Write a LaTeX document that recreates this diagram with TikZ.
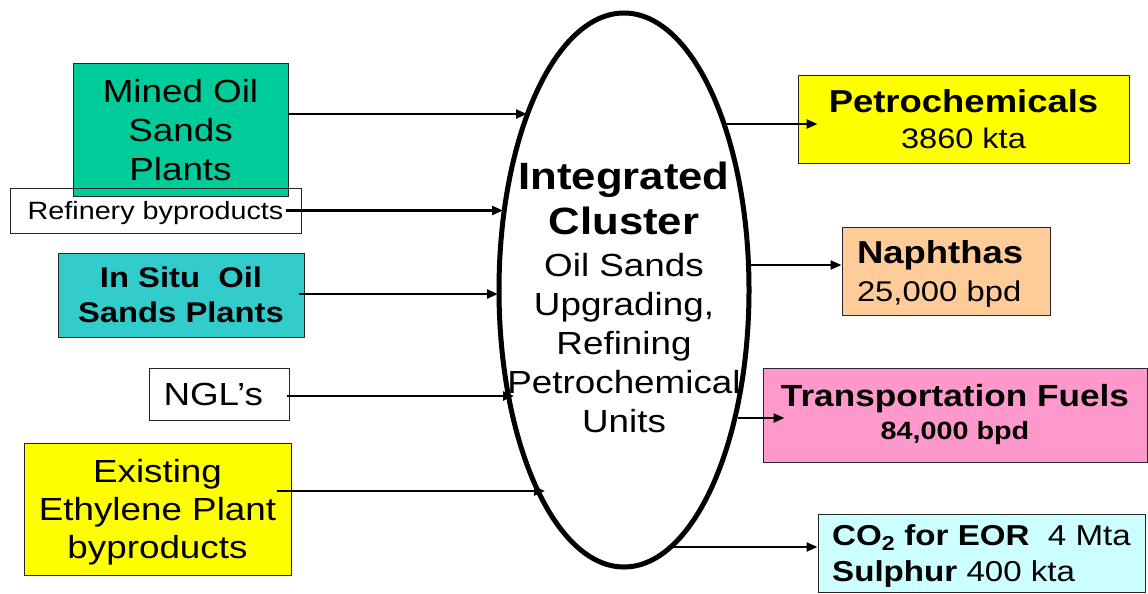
\documentclass[tikz,border=0pt]{standalone}
\usepackage{fontspec}
\setmainfont{Liberation Sans}[FakeStretch=1.15]
\usetikzlibrary{arrows.meta,shapes.geometric,calc}
\definecolor{minedc}{HTML}{00CC99}
\definecolor{insituc}{HTML}{33CCCC}
\definecolor{yel}{HTML}{FFFF00}
\definecolor{naphc}{HTML}{FFCC99}
\definecolor{transc}{HTML}{FF99CC}
\definecolor{coc}{HTML}{CCFFFF}
\newcommand\fsreg{\fontsize{32}{39}\selectfont}
\begin{document}
\begin{tikzpicture}[x=1pt,y=-1pt,
  box/.style={draw=black!85, line width=1pt, inner sep=0pt, align=center},
  arr/.style={line width=2.3pt, -{Triangle[length=11pt,width=9pt]}},
  ring/.style={draw=black, ellipse, line width=5pt, inner sep=0pt}]
\useasboundingbox (0,0) rectangle (1148,594);
\clip (0,0) rectangle (1148,594);
\fill[white] (0,0) rectangle (1148,594);

% left inputs
\node[box, fill=minedc, minimum width=215pt, minimum height=132pt, font=\fsreg] (mined) at (180.5,130) {Mined Oil\\Sands\\Plants};
\node[box, minimum width=291pt, minimum height=45pt, text depth=0pt, font=\fontsize{25}{30}\selectfont] (ref) at (155.5,210.5) {Refinery byproducts};
\node[box, fill=insituc, minimum width=246pt, minimum height=84pt, font=\bfseries\fontsize{28.5}{35}\selectfont] (insitu) at (181,295) {In Situ\ \ Oil\\Sands Plants};
\node[box, minimum height=52pt, text width=112pt, inner xsep=14pt, align=left, text depth=0pt, font=\fsreg] (ngl) at (219.5,394.5) {NGL’s};
\node[box, fill=yel, minimum width=267pt, minimum height=132pt, text depth=0pt, font=\fontsize{32}{38}\selectfont] (eth) at (157.5,509) {Existing\\Ethylene Plant\\byproducts};

% cluster
\node[align=center, inner sep=0pt, font=\fsreg] (cltext) at (624,297.3)
  {{\bfseries\fontsize{38}{45}\selectfont Integrated}\\[6pt]
   {\bfseries\fontsize{38}{45}\selectfont Cluster}\\[3pt]
   Oil Sands\\Upgrading,\\Refining\\Petrochemical\\Units};
\node[ring, minimum width=250pt, minimum height=554pt] (cluster) at (624,290) {};

% right outputs
\node[box, fill=yel, minimum width=331pt, minimum height=88pt, font=\fontsize{28.3}{36}\selectfont] (pet) at (963.5,119)
  {{\bfseries\fontsize{31.7}{36}\selectfont Petrochemicals}\\3860 kta};
\node[box, fill=naphc, minimum height=88pt, text width=178pt, inner xsep=15pt, align=left, text depth=38pt, font=\fontsize{28.5}{38}\selectfont] (nap) at (946,271)
  {{\bfseries\fontsize{31.7}{38}\selectfont Naphthas}\\25,000 bpd};
\node[box, fill=transc, minimum width=384pt, minimum height=94pt, font=\bfseries\fontsize{25}{33}\selectfont] (trans) at (955,415)
  {{\fontsize{30.6}{33}\selectfont Transportation Fuels}\\84,000 bpd};
\node[box, fill=coc, minimum width=327pt, minimum height=78pt, align=left, text depth=0pt, font=\fontsize{28.8}{36}\selectfont] (co) at (981.5,553)
  {\textbf{CO\textsubscript{2} for EOR}\ \ 4 Mta\\\textbf{Sulphur} 400 kta};

% connector end points on the ellipse
\coordinate (inMined) at (527,114);
\coordinate (inRef) at (503,210.5);
\coordinate (inSitu) at (498,294);
\coordinate (inNGL) at (514,396);
\coordinate (inEth) at (545,491);
\coordinate (outPet) at (725,124);
\coordinate (outNap) at (750,265);
\coordinate (outTr) at (738,418);
\coordinate (outCO) at (672,547);

\draw[arr] (mined.east |- inMined) -- (inMined);
\draw[arr] ([xshift=-16pt]ref.east) -- (inRef);
\draw[arr] ($(insitu.east |- inSitu)+(-6,0)$) -- (inSitu);
\draw[arr] ($(ngl.east |- inNGL)+(-3,0)$) -- (inNGL);
\draw[arr] ($(eth.east |- inEth)+(-15,0)$) -- (inEth);

\draw[arr] (outPet) -- ($(pet.west |- outPet)+(20,0)$);
\draw[arr] (outNap) -- (nap.west |- outNap);
\draw[arr] (outTr) -- ($(trans.west |- outTr)+(22,0)$);
\draw[arr] (outCO) -- (co.west |- outCO);
\end{tikzpicture}
\end{document}
